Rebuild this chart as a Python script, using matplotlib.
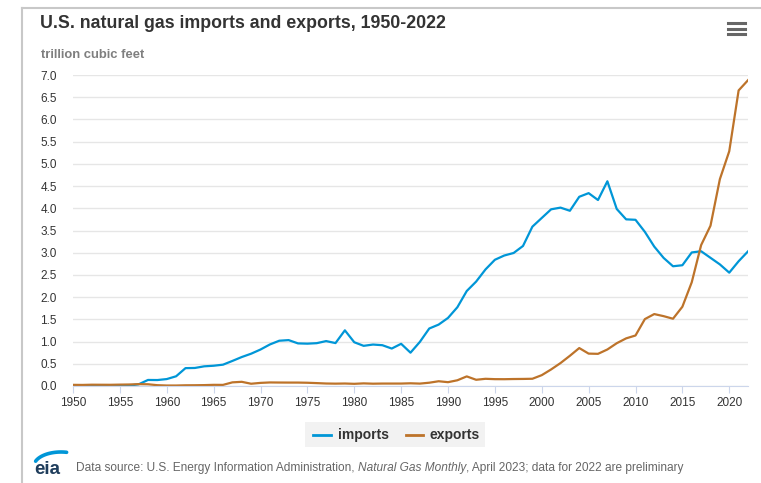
import matplotlib
matplotlib.use("Agg")
import numpy as np
import matplotlib.pyplot as plt
from matplotlib.lines import Line2D
from matplotlib.patches import Rectangle

plt.rcParams['font.family'] = ['Liberation Sans', 'DejaVu Sans']

# データ (trillion cubic feet)
years = list(range(1950, 2023))
imports = [0.000, 0.000, 0.007, 0.009, 0.006, 0.011, 0.010, 0.038, 0.136, 0.134,
           0.156, 0.219, 0.402, 0.406, 0.443, 0.456, 0.480, 0.564, 0.652, 0.727,
           0.821, 0.935, 1.019, 1.033, 0.959, 0.953, 0.964, 1.011, 0.966, 1.253,
           0.985, 0.904, 0.933, 0.918, 0.843, 0.950, 0.750, 0.993, 1.294, 1.382,
           1.532, 1.773, 2.138, 2.350, 2.624, 2.841, 2.937, 2.994, 3.152, 3.586,
           3.782, 3.977, 4.015, 3.944, 4.259, 4.341, 4.186, 4.608, 3.984, 3.751,
           3.741, 3.469, 3.138, 2.883, 2.695, 2.718, 3.006, 3.033, 2.885, 2.737,
           2.551, 2.808, 3.030]
exports = [0.026, 0.024, 0.029, 0.028, 0.027, 0.031, 0.034, 0.042, 0.039, 0.018,
           0.011, 0.011, 0.016, 0.017, 0.020, 0.026, 0.025, 0.082, 0.094, 0.051,
           0.070, 0.080, 0.078, 0.077, 0.077, 0.073, 0.065, 0.056, 0.053, 0.056,
           0.049, 0.059, 0.052, 0.055, 0.055, 0.055, 0.061, 0.054, 0.074, 0.107,
           0.086, 0.129, 0.216, 0.140, 0.162, 0.154, 0.153, 0.157, 0.159, 0.163,
           0.244, 0.373, 0.516, 0.680, 0.854, 0.729, 0.724, 0.822, 0.963, 1.072,
           1.137, 1.506, 1.619, 1.572, 1.514, 1.784, 2.335, 3.171, 3.608, 4.656,
           5.284, 6.653, 6.883]
x_ticks = list(range(1950, 2021, 5))
y_ticks = [i * 0.5 for i in range(15)]

C_IMP = '#0096d7'
C_EXP = '#bd732a'

W, H = 761, 483
fig = plt.figure(figsize=(W / 100, H / 100), dpi=100)
fig.patch.set_facecolor('white')

def fx(px):
    return px / W

def fy(py):
    return 1 - py / H

# 枠線
fig.add_artist(Line2D([fx(22), fx(22)], [fy(8), 0], color='#c8c8c8', lw=1.5))
fig.add_artist(Line2D([fx(22), 1], [fy(8), fy(8)], color='#c8c8c8', lw=1.5))

ax = fig.add_axes([fx(73), fy(386), fx(748) - fx(73), fy(75) - fy(386)])
ax.plot(years, imports, color=C_IMP, lw=1.6, solid_joinstyle='round')
ax.plot(years, exports, color=C_EXP, lw=1.6, solid_joinstyle='round')

ax.set_xlim(1950, 2022)
ax.set_ylim(0, 7.0)
ax.set_xticks(x_ticks)
ax.set_yticks(y_ticks)
ax.set_yticklabels([f'{v:.1f}' for v in y_ticks])
ax.yaxis.grid(True, color='#e6e6e6', lw=1)
ax.set_axisbelow(True)
for s in ['top', 'right', 'left']:
    ax.spines[s].set_visible(False)
ax.spines['bottom'].set_color('#ccd6eb')
ax.tick_params(axis='y', length=0, pad=11.5, labelsize=8.5, labelcolor='#333333')
ax.tick_params(axis='x', length=5, color='#ccd6eb', pad=3, labelsize=8.5, labelcolor='#333333')

# タイトル
fig.text(fx(40), fy(23), 'U.S. natural gas imports and exports, 1950-2022',
         fontsize=12.8, fontweight='bold', color='#333333', va='center', ha='left')
fig.text(fx(41), fy(54.5), 'trillion cubic feet', fontsize=9.4, fontweight='bold',
         color='#7f7f7f', va='center', ha='left')

# メニューアイコン
for yy in [23, 28.5, 34]:
    fig.add_artist(Line2D([fx(728), fx(745)], [fy(yy), fy(yy)], color='#666666', lw=2.2))

# 凡例
fig.add_artist(Rectangle((fx(305), fy(447)), fx(485) - fx(305), fy(422) - fy(447),
                         facecolor='#f2f2f2', edgecolor='none'))
fig.add_artist(Line2D([fx(313), fx(331)], [fy(435), fy(435)], color=C_IMP, lw=2))
fig.text(fx(338), fy(435), 'imports', fontsize=10, fontweight='bold', color='#333333',
         va='center', ha='left')
fig.add_artist(Line2D([fx(406), fx(423)], [fy(435), fy(435)], color=C_EXP, lw=2))
fig.text(fx(429), fy(435), 'exports', fontsize=10, fontweight='bold', color='#333333',
         va='center', ha='left')

# eia ロゴ
fig.text(fx(34), fy(469), 'eia', fontsize=13.5, fontweight='bold', color='#1f3d5c',
         va='center', ha='left')
th = np.radians(np.linspace(78, 160, 40))
fig.add_artist(Line2D(fx(61 + 27 * np.cos(th)), fy(466 - 14 * np.sin(th)),
                      color='#0096d7', lw=2.6, solid_capstyle='round'))

# 出典
fs = 8.6
fig.canvas.draw()
r = fig.canvas.get_renderer()
t0 = fig.text(fx(76), fy(468), 'Data source: U.S. Energy Information Administration, ',
              fontsize=fs, color='#666666', va='center', ha='left')
bb = t0.get_window_extent(r)
it = fig.text(bb.x1 / W, fy(468), 'Natural Gas Monthly', fontsize=fs, style='italic',
              color='#666666', va='center', ha='left')
bb2 = it.get_window_extent(r)
fig.text(bb2.x1 / W, fy(468), ', April 2023; data for 2022 are preliminary',
         fontsize=fs, color='#666666', va='center', ha='left')

fig.savefig('out.png', dpi=100)
